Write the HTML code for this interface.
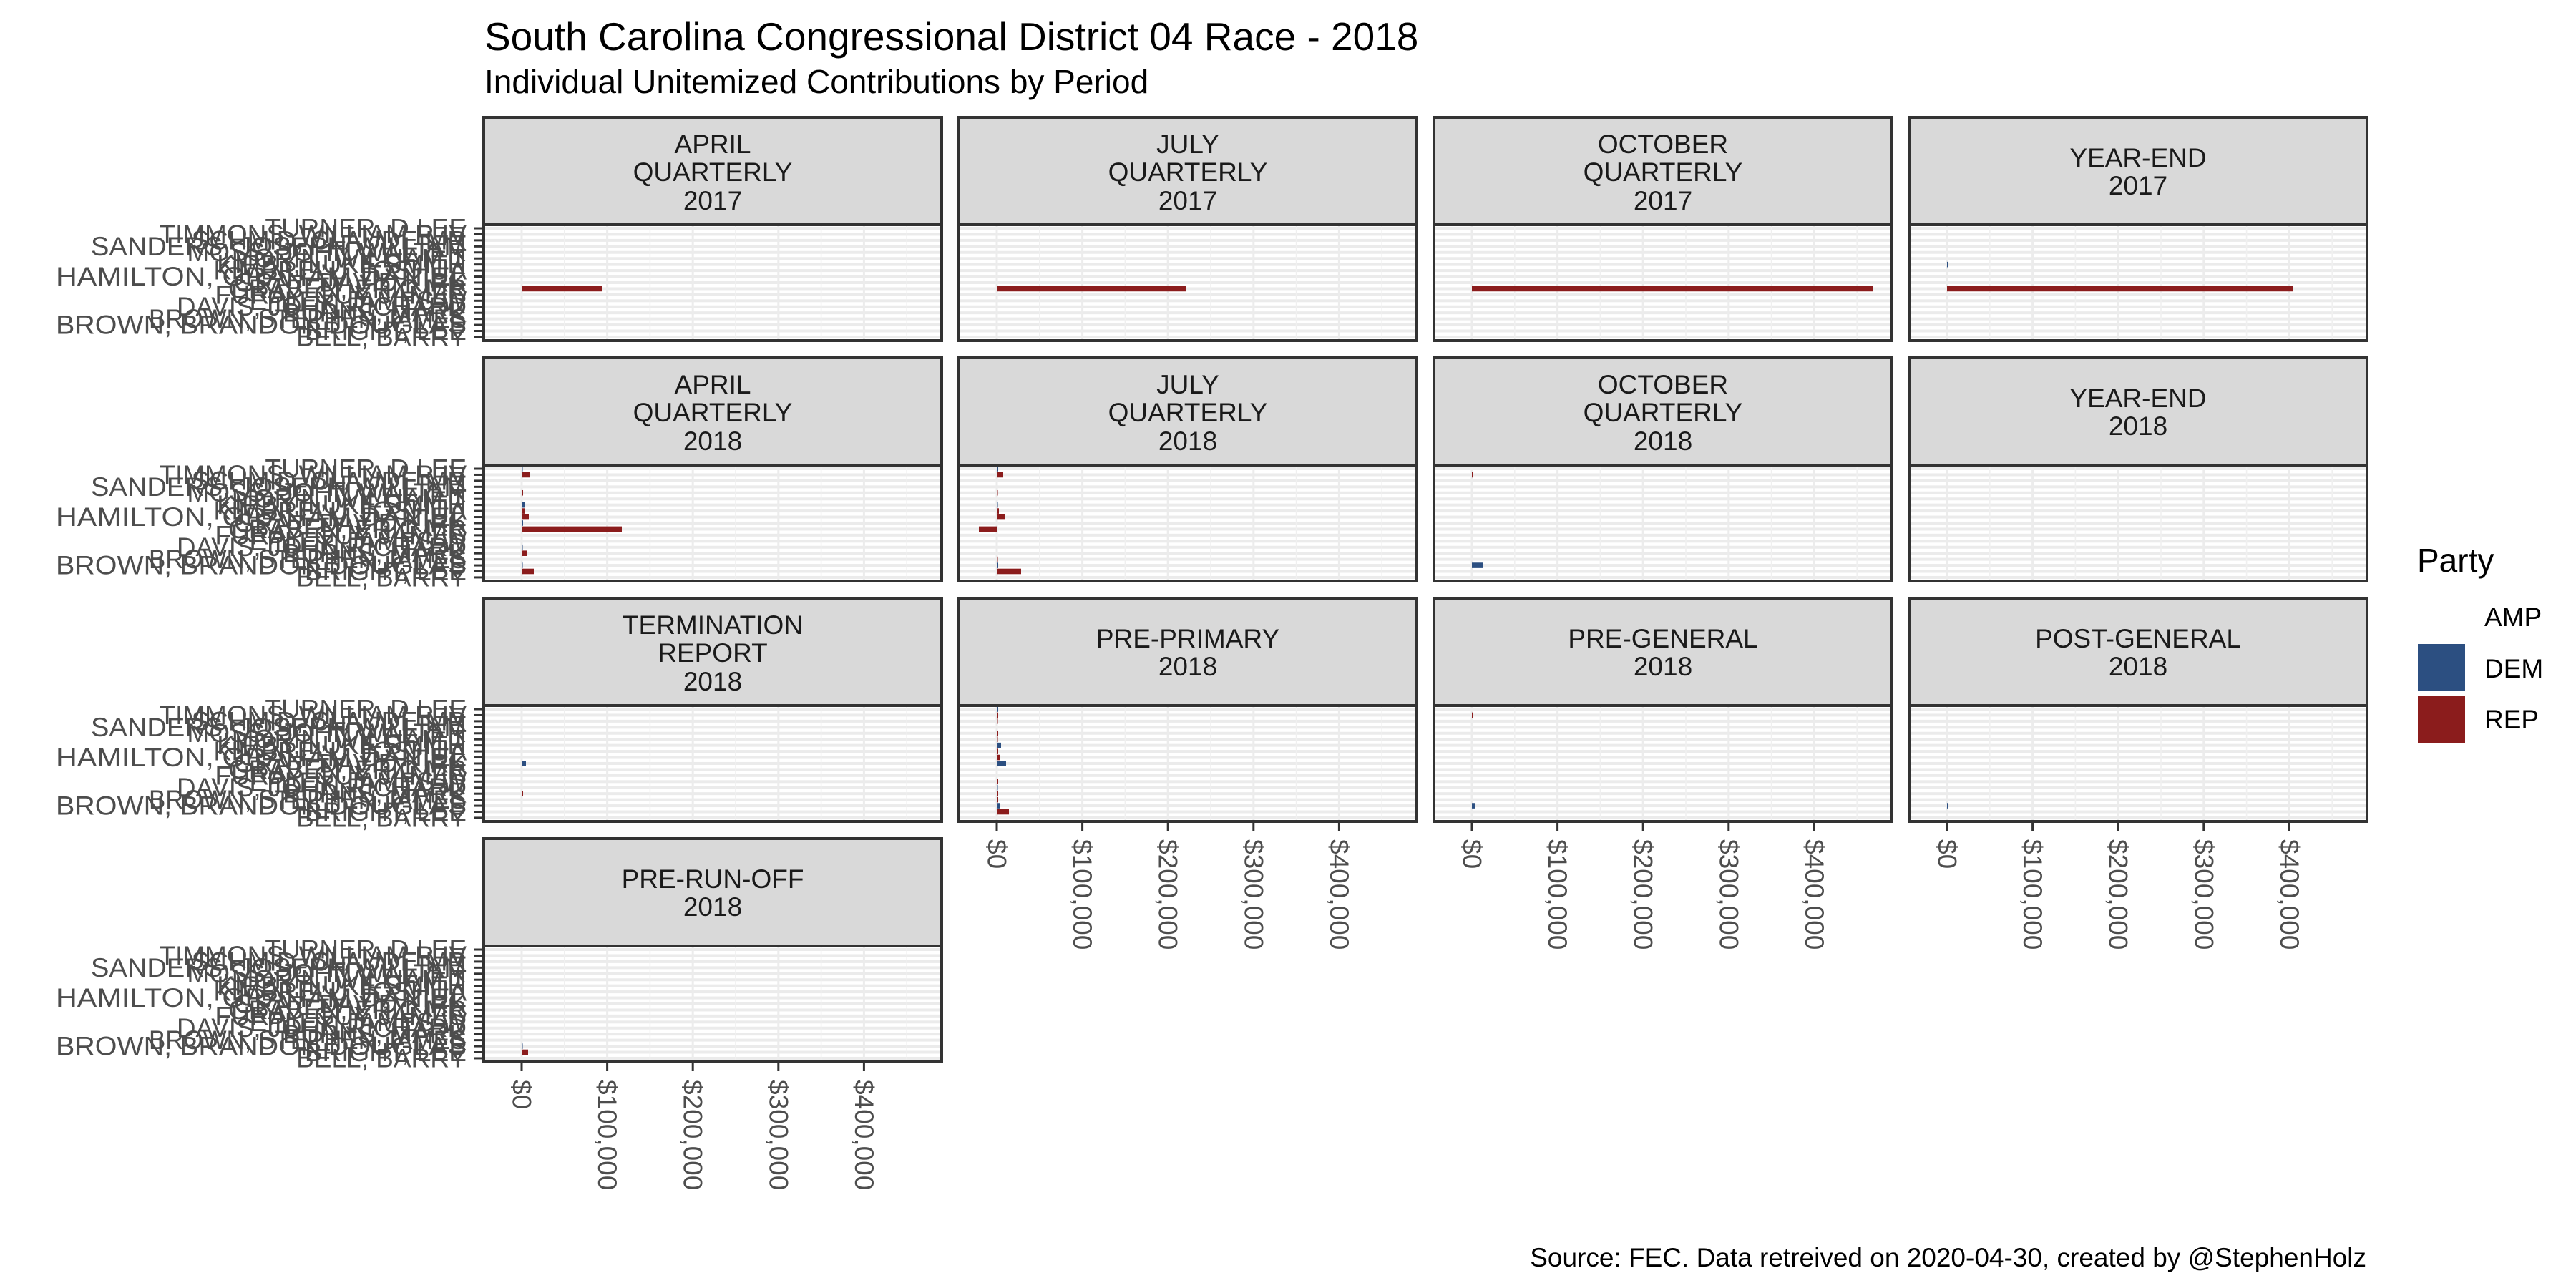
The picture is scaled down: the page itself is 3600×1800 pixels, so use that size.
<!DOCTYPE html>
<html><head><meta charset="utf-8"><style>
html,body{margin:0;padding:0;background:#fff;}
svg{display:block;font-family:"Liberation Sans",Arial,sans-serif;}
.yl{font-size:37px;fill:#4d4d4d;text-anchor:end;dominant-baseline:central;}
.xl{font-size:37px;fill:#4d4d4d;dominant-baseline:central;}
.st{font-size:37px;fill:#1a1a1a;text-anchor:middle;}
</style></head><body>
<svg id="s" width="3600" height="1800" viewBox="0 0 3600 1800" xmlns="http://www.w3.org/2000/svg">
<rect width="3600" height="1800" fill="#fff"/>
<g id="grid"></g>
<g id="bars"></g>
<g id="frames"></g>
<text x="677" y="70" font-size="55" fill="#000">South Carolina Congressional District 04 Race - 2018</text>
<text x="677" y="130" font-size="46" fill="#000">Individual Unitemized Contributions by Period</text>

<text class="st" x="996" y="214">APRIL</text><text class="st" x="996" y="253">QUARTERLY</text><text class="st" x="996" y="293">2017</text>
<text class="st" x="1660" y="214">JULY</text><text class="st" x="1660" y="253">QUARTERLY</text><text class="st" x="1660" y="293">2017</text>
<text class="st" x="2324" y="214">OCTOBER</text><text class="st" x="2324" y="253">QUARTERLY</text><text class="st" x="2324" y="293">2017</text>
<text class="st" x="2988" y="233">YEAR-END</text><text class="st" x="2988" y="272">2017</text>

<text class="st" x="996" y="550">APRIL</text><text class="st" x="996" y="589">QUARTERLY</text><text class="st" x="996" y="629">2018</text>
<text class="st" x="1660" y="550">JULY</text><text class="st" x="1660" y="589">QUARTERLY</text><text class="st" x="1660" y="629">2018</text>
<text class="st" x="2324" y="550">OCTOBER</text><text class="st" x="2324" y="589">QUARTERLY</text><text class="st" x="2324" y="629">2018</text>
<text class="st" x="2988" y="569">YEAR-END</text><text class="st" x="2988" y="608">2018</text>

<text class="st" x="996" y="886">TERMINATION</text><text class="st" x="996" y="925">REPORT</text><text class="st" x="996" y="965">2018</text>
<text class="st" x="1660" y="905">PRE-PRIMARY</text><text class="st" x="1660" y="944">2018</text>
<text class="st" x="2324" y="905">PRE-GENERAL</text><text class="st" x="2324" y="944">2018</text>
<text class="st" x="2988" y="905">POST-GENERAL</text><text class="st" x="2988" y="944">2018</text>

<text class="st" x="996" y="1241">PRE-RUN-OFF</text><text class="st" x="996" y="1280">2018</text>

<g transform="translate(0,476)">
<text class="yl" x="652" y="-5.1">BELL, BARRY</text><text class="yl" x="652" y="-13.5">BRIGHT, LEE</text><text class="yl" x="652" y="-21.9" textLength="574" lengthAdjust="spacingAndGlyphs">BROWN, BRANDON DOUGLAS</text><text class="yl" x="652" y="-30.4" textLength="444" lengthAdjust="spacingAndGlyphs">BROWN, STEPHEN JAMES</text><text class="yl" x="652" y="-38.8">BURNS, MARK</text><text class="yl" x="652" y="-47.3" textLength="405" lengthAdjust="spacingAndGlyphs">DAVIS, JOHN RICHARD</text><text class="yl" x="652" y="-55.7">EPLEY, JAMES W</text><text class="yl" x="652" y="-64.2">FURAY, GUY JAMES</text><text class="yl" x="652" y="-72.6">GRABEN, ERIC MR</text><text class="yl" x="652" y="-81.0">GRAY, DAVID KIRK</text><text class="yl" x="652" y="-89.5" textLength="574" lengthAdjust="spacingAndGlyphs">HAMILTON, GRAHAM DANIEL</text><text class="yl" x="652" y="-97.9">KIMBRELL, JOSHUA</text><text class="yl" x="652" y="-106.4">KIRBY, LUKE SMITH</text><text class="yl" x="652" y="-114.8">MORIN, WILLIAM T</text><text class="yl" x="652" y="-123.3">MOSS, JOHN WALTER</text><text class="yl" x="652" y="-131.7" textLength="525" lengthAdjust="spacingAndGlyphs">SANDERS, JOSEPH WILLIAM</text><text class="yl" x="652" y="-140.1">SCHMID, CLAUDE MR</text><text class="yl" x="652" y="-148.6">TIMMONS, WILLIAM R IV</text><text class="yl" x="652" y="-157.0">TURNER, D LEE</text>
</g>
<g transform="translate(0,812)">
<text class="yl" x="652" y="-5.1">BELL, BARRY</text><text class="yl" x="652" y="-13.5">BRIGHT, LEE</text><text class="yl" x="652" y="-21.9" textLength="574" lengthAdjust="spacingAndGlyphs">BROWN, BRANDON DOUGLAS</text><text class="yl" x="652" y="-30.4" textLength="444" lengthAdjust="spacingAndGlyphs">BROWN, STEPHEN JAMES</text><text class="yl" x="652" y="-38.8">BURNS, MARK</text><text class="yl" x="652" y="-47.3" textLength="405" lengthAdjust="spacingAndGlyphs">DAVIS, JOHN RICHARD</text><text class="yl" x="652" y="-55.7">EPLEY, JAMES W</text><text class="yl" x="652" y="-64.2">FURAY, GUY JAMES</text><text class="yl" x="652" y="-72.6">GRABEN, ERIC MR</text><text class="yl" x="652" y="-81.0">GRAY, DAVID KIRK</text><text class="yl" x="652" y="-89.5" textLength="574" lengthAdjust="spacingAndGlyphs">HAMILTON, GRAHAM DANIEL</text><text class="yl" x="652" y="-97.9">KIMBRELL, JOSHUA</text><text class="yl" x="652" y="-106.4">KIRBY, LUKE SMITH</text><text class="yl" x="652" y="-114.8">MORIN, WILLIAM T</text><text class="yl" x="652" y="-123.3">MOSS, JOHN WALTER</text><text class="yl" x="652" y="-131.7" textLength="525" lengthAdjust="spacingAndGlyphs">SANDERS, JOSEPH WILLIAM</text><text class="yl" x="652" y="-140.1">SCHMID, CLAUDE MR</text><text class="yl" x="652" y="-148.6">TIMMONS, WILLIAM R IV</text><text class="yl" x="652" y="-157.0">TURNER, D LEE</text>
</g>
<g transform="translate(0,1148)">
<text class="yl" x="652" y="-5.1">BELL, BARRY</text><text class="yl" x="652" y="-13.5">BRIGHT, LEE</text><text class="yl" x="652" y="-21.9" textLength="574" lengthAdjust="spacingAndGlyphs">BROWN, BRANDON DOUGLAS</text><text class="yl" x="652" y="-30.4" textLength="444" lengthAdjust="spacingAndGlyphs">BROWN, STEPHEN JAMES</text><text class="yl" x="652" y="-38.8">BURNS, MARK</text><text class="yl" x="652" y="-47.3" textLength="405" lengthAdjust="spacingAndGlyphs">DAVIS, JOHN RICHARD</text><text class="yl" x="652" y="-55.7">EPLEY, JAMES W</text><text class="yl" x="652" y="-64.2">FURAY, GUY JAMES</text><text class="yl" x="652" y="-72.6">GRABEN, ERIC MR</text><text class="yl" x="652" y="-81.0">GRAY, DAVID KIRK</text><text class="yl" x="652" y="-89.5" textLength="574" lengthAdjust="spacingAndGlyphs">HAMILTON, GRAHAM DANIEL</text><text class="yl" x="652" y="-97.9">KIMBRELL, JOSHUA</text><text class="yl" x="652" y="-106.4">KIRBY, LUKE SMITH</text><text class="yl" x="652" y="-114.8">MORIN, WILLIAM T</text><text class="yl" x="652" y="-123.3">MOSS, JOHN WALTER</text><text class="yl" x="652" y="-131.7" textLength="525" lengthAdjust="spacingAndGlyphs">SANDERS, JOSEPH WILLIAM</text><text class="yl" x="652" y="-140.1">SCHMID, CLAUDE MR</text><text class="yl" x="652" y="-148.6">TIMMONS, WILLIAM R IV</text><text class="yl" x="652" y="-157.0">TURNER, D LEE</text>
</g>
<g transform="translate(0,1484)">
<text class="yl" x="652" y="-5.1">BELL, BARRY</text><text class="yl" x="652" y="-13.5">BRIGHT, LEE</text><text class="yl" x="652" y="-21.9" textLength="574" lengthAdjust="spacingAndGlyphs">BROWN, BRANDON DOUGLAS</text><text class="yl" x="652" y="-30.4" textLength="444" lengthAdjust="spacingAndGlyphs">BROWN, STEPHEN JAMES</text><text class="yl" x="652" y="-38.8">BURNS, MARK</text><text class="yl" x="652" y="-47.3" textLength="405" lengthAdjust="spacingAndGlyphs">DAVIS, JOHN RICHARD</text><text class="yl" x="652" y="-55.7">EPLEY, JAMES W</text><text class="yl" x="652" y="-64.2">FURAY, GUY JAMES</text><text class="yl" x="652" y="-72.6">GRABEN, ERIC MR</text><text class="yl" x="652" y="-81.0">GRAY, DAVID KIRK</text><text class="yl" x="652" y="-89.5" textLength="574" lengthAdjust="spacingAndGlyphs">HAMILTON, GRAHAM DANIEL</text><text class="yl" x="652" y="-97.9">KIMBRELL, JOSHUA</text><text class="yl" x="652" y="-106.4">KIRBY, LUKE SMITH</text><text class="yl" x="652" y="-114.8">MORIN, WILLIAM T</text><text class="yl" x="652" y="-123.3">MOSS, JOHN WALTER</text><text class="yl" x="652" y="-131.7" textLength="525" lengthAdjust="spacingAndGlyphs">SANDERS, JOSEPH WILLIAM</text><text class="yl" x="652" y="-140.1">SCHMID, CLAUDE MR</text><text class="yl" x="652" y="-148.6">TIMMONS, WILLIAM R IV</text><text class="yl" x="652" y="-157.0">TURNER, D LEE</text>
</g>

<g transform="translate(729,1509)"><text class="xl" transform="rotate(90)" x="0" y="0">$0</text><text class="xl" transform="rotate(90)" x="0" y="-119.6">$100,000</text><text class="xl" transform="rotate(90)" x="0" y="-239.2">$200,000</text><text class="xl" transform="rotate(90)" x="0" y="-358.8">$300,000</text><text class="xl" transform="rotate(90)" x="0" y="-478.4">$400,000</text></g>
<g transform="translate(1393,1173)"><text class="xl" transform="rotate(90)" x="0" y="0">$0</text><text class="xl" transform="rotate(90)" x="0" y="-119.6">$100,000</text><text class="xl" transform="rotate(90)" x="0" y="-239.2">$200,000</text><text class="xl" transform="rotate(90)" x="0" y="-358.8">$300,000</text><text class="xl" transform="rotate(90)" x="0" y="-478.4">$400,000</text></g>
<g transform="translate(2057,1173)"><text class="xl" transform="rotate(90)" x="0" y="0">$0</text><text class="xl" transform="rotate(90)" x="0" y="-119.6">$100,000</text><text class="xl" transform="rotate(90)" x="0" y="-239.2">$200,000</text><text class="xl" transform="rotate(90)" x="0" y="-358.8">$300,000</text><text class="xl" transform="rotate(90)" x="0" y="-478.4">$400,000</text></g>
<g transform="translate(2721,1173)"><text class="xl" transform="rotate(90)" x="0" y="0">$0</text><text class="xl" transform="rotate(90)" x="0" y="-119.6">$100,000</text><text class="xl" transform="rotate(90)" x="0" y="-239.2">$200,000</text><text class="xl" transform="rotate(90)" x="0" y="-358.8">$300,000</text><text class="xl" transform="rotate(90)" x="0" y="-478.4">$400,000</text></g>

<text x="3378" y="799" font-size="46" fill="#000">Party</text>
<text x="3472" y="875" font-size="37" fill="#000">AMP</text>
<rect x="3379" y="900" width="66" height="66" fill="#2c4f81"/>
<text x="3472" y="947" font-size="37" fill="#000">DEM</text>
<rect x="3379" y="972" width="66" height="66" fill="#8b1c1c"/>
<text x="3472" y="1018" font-size="37" fill="#000">REP</text>

<text x="3307" y="1770" font-size="37" fill="#000" text-anchor="end">Source: FEC. Data retreived on 2020-04-30, created by @StephenHolz</text>
</svg>
<script>
(function(){
var NS="http://www.w3.org/2000/svg";
function el(p,t,a){var e=document.createElementNS(NS,t);for(var k in a)e.setAttribute(k,a[k]);p.appendChild(e);return e;}
var grid=document.getElementById('grid'),bars=document.getElementById('bars'),fr=document.getElementById('frames');
var cols=[676,1340,2004,2668],W=640,P=8.44,U=119.6;
var panels=[];
for(var r=0;r<4;r++)for(var c=0;c<4;c++){if(r==3&&c>0)continue;panels.push([r,c]);}
panels.forEach(function(p){
 var r=p[0],c=p[1],L=cols[c],B=476+336*r,T=314+336*r,S=164+336*r;
 el(grid,'rect',{x:L,y:T,width:W,height:B-T,fill:'#fff'});
 for(var k=0;k<19;k++){var y=B-(0.6+k)*P;el(grid,'rect',{x:L,y:y-2,width:W,height:4,fill:'#ebebeb'});}
 for(var i=0;i<5;i++){var x=L+53+i*U;el(grid,'rect',{x:x-1.5,y:T,width:3,height:B-T,fill:'#ececec'});
  var xm=x+U/2;if(xm<L+W)el(grid,'rect',{x:xm-0.8,y:T,width:1.6,height:B-T,fill:'#f0f0f0'});}
 el(fr,'rect',{x:L,y:S,width:W,height:150,fill:'#d9d9d9',stroke:'#333',"stroke-width":4});
 el(fr,'rect',{x:L,y:T,width:W,height:B-T,fill:'none',stroke:'#333',"stroke-width":4});
 if(c==0){for(var k=0;k<19;k++){var y=B-(0.6+k)*P;el(fr,'line',{x1:662,x2:675,y1:y,y2:y,stroke:'#333',"stroke-width":3});}}
 if((r==3&&c==0)||(r==2&&c>0)){for(var i=0;i<5;i++){var x=L+53+i*U;el(fr,'line',{x1:x,x2:x,y1:B+2,y2:B+13,stroke:'#333',"stroke-width":3});}}
});
var R='#8b1c1c',D='#2c4f81';
var data=[
[0,0,8,R,0,113],[0,1,8,R,0,265],[0,2,8,R,0,560],[0,3,8,R,0,484],[0,3,12,D,0,1.5],
[1,0,18,D,0,1.5],[1,0,17,R,0,12],[1,0,14,R,0,2],[1,0,12,D,0,5],[1,0,11,R,0,5],[1,0,10,R,0,10],[1,0,9,D,0,2],[1,0,8,R,0,140],[1,0,5,D,0,1.5],[1,0,4,R,0,7],[1,0,2,D,0,1.5],[1,0,1,R,0,17],
[1,1,18,D,0,2],[1,1,17,R,0,9],[1,1,14,R,0,1.5],[1,1,12,D,0,1.5],[1,1,11,R,0,3],[1,1,10,R,0,11],[1,1,8,R,-25,25],[1,1,3,R,0,1.5],[1,1,2,D,0,2],[1,1,1,R,0,34],
[1,2,17,R,0,2],[1,2,2,D,0,15],
[2,0,9,D,0,6],[2,0,4,R,0,2],
[2,1,18,D,0,2],[2,1,17,R,0,2],[2,1,16,R,0,1.5],[2,1,14,R,0,2],[2,1,13,R,0,1.5],[2,1,12,D,0,6],[2,1,11,R,0,2],[2,1,10,R,0,4],[2,1,9,D,0,13],[2,1,6,R,0,2],[2,1,5,D,0,1.5],[2,1,4,R,0,2],[2,1,3,R,0,2],[2,1,2,D,0,4],[2,1,1,R,0,17],
[2,2,17,R,0,1.5],[2,2,2,D,0,4],
[2,3,2,D,0,2],
[3,0,2,D,0,1.5],[3,0,1,R,0,9]
];
data.forEach(function(d){var L=cols[d[1]],B=476+336*d[0],y=B-(0.6+d[2])*P;
 el(bars,'rect',{x:L+53+d[4],y:y-3.8,width:d[5],height:7.6,fill:d[3]});});
})();
</script>
</body></html>
